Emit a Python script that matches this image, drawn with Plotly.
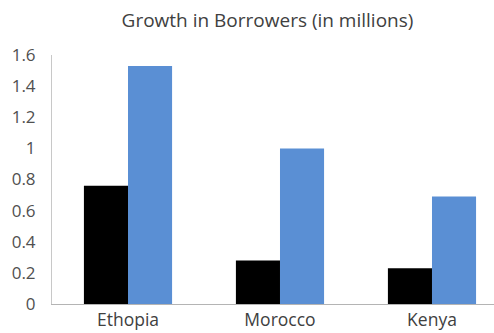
import plotly.graph_objects as go

# Borrower growth by country, in millions
countries = ["Ethopia", "Morocco", "Kenya"]
series_a = [0.76, 0.28, 0.23]
series_b = [1.53, 1.00, 0.69]
y_ticks = [0, 0.2, 0.4, 0.6, 0.8, 1, 1.2, 1.4, 1.6]
y_tick_text = ["0", "0.2", "0.4", "0.6", "0.8", "1", "1.2", "1.4", "1.6"]

W, H = 494, 333
font_family = "Open Sans"

fig = go.Figure()
fig.add_trace(go.Bar(x=countries, y=series_a, marker_color="#000000",
                     marker_line_width=0, name="A"))
fig.add_trace(go.Bar(x=countries, y=series_b, marker_color="#5A8FD4",
                     marker_line_width=0, name="B"))

fig.update_layout(
    width=W, height=H,
    margin=dict(l=52, r=0, t=55, b=29),
    paper_bgcolor="white", plot_bgcolor="white",
    barmode="group", bargap=0.42, bargroupgap=0,
    showlegend=False,
    title=dict(text="Growth in Borrowers (in millions)",
               x=267.5 / W, xref="container", xanchor="center",
               y=1 - 20 / H, yref="container", yanchor="middle",
               font=dict(family=font_family, size=19, color="#404040")),
    font=dict(family=font_family, size=17, color="#595959"),
)
fig.update_xaxes(range=[-0.5, 2.408], showline=True, linecolor="#b4b4b4",
                 linewidth=1, ticks="", showgrid=False,
                 tickfont=dict(size=17.5, color="#404040"))
fig.update_yaxes(range=[0, 1.6], tickvals=y_ticks, ticktext=y_tick_text,
                 showgrid=False, zeroline=False, showline=True,
                 linecolor="#c8c8c8", linewidth=1, ticks="",
                 ticklabelstandoff=12,
                 tickfont=dict(size=17, color="#505050"))

fig.write_html("out.html")
